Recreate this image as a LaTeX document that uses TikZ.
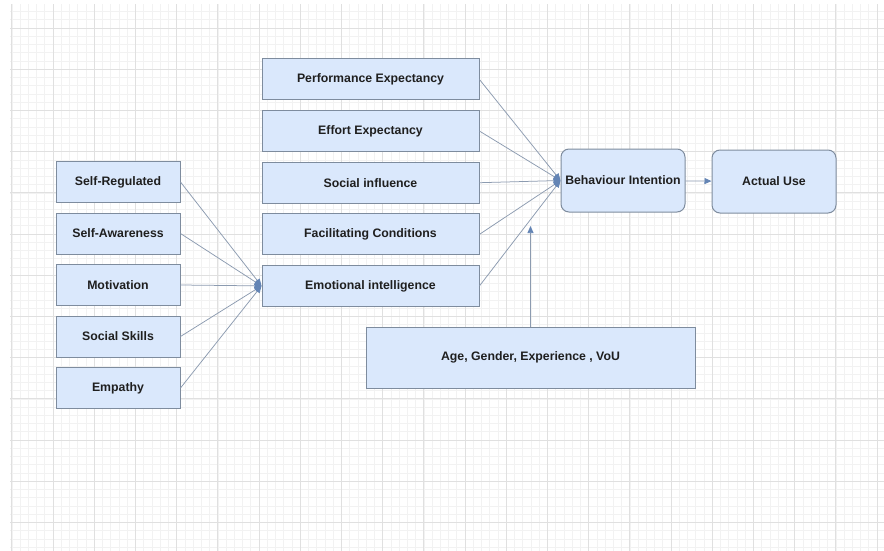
\documentclass[tikz,border=0pt]{standalone}
\usepackage{fontspec}
\setmainfont{Liberation Sans}
\usetikzlibrary{arrows.meta}
\definecolor{boxfill}{HTML}{DAE8FC}
\definecolor{boxline}{HTML}{7E8C9E}
\definecolor{conline}{HTML}{8C9BB0}
\definecolor{tipfill}{HTML}{6485B5}
\definecolor{gridminor}{HTML}{F2F2F2}
\definecolor{gridmajor}{HTML}{E0E0E0}
\tikzset{
	factor/.style={draw=boxline, line width=1pt, fill=boxfill, minimum height=41pt, inner sep=2pt, font=\fontsize{12.3}{14}\selectfont\bfseries, text=black!88},
	outcome/.style={factor, rounded corners=8pt, minimum width=124pt, minimum height=63pt},
	link/.style={draw=conline, line width=0.75pt, -{Triangle[length=7pt,width=6pt,color=tipfill,fill=tipfill]}},
}
\begin{document}
\begin{tikzpicture}[x=1pt, y=-1pt]
		\useasboundingbox[fill=white] (0,0) rectangle (884,551);
		% grid
		\begin{scope}
			\clip (10,5) rectangle (884,551);
			\foreach \i in {0,...,105} \draw[gridminor, line width=0.6pt] (11.8+8.24*\i,0) -- (11.8+8.24*\i,551);
			\foreach \j in {0,...,65} \draw[gridminor, line width=0.6pt] (0,11.52+8.24*\j) -- (884,11.52+8.24*\j);
			\foreach \i in {0,...,21} \draw[gridmajor, line width=0.8pt] (11.8+41.2*\i,0) -- (11.8+41.2*\i,551);
			\foreach \j in {0,...,12} \draw[gridmajor, line width=0.8pt] (0,28+41.2*\j) -- (884,28+41.2*\j);
		\end{scope}
		% UTAUT constructs
		\node[factor, minimum width=217pt] (pe) at (370.5,79.5) {Performance Expectancy};
		\node[factor, minimum width=217pt] (ee) at (370.5,131.1) {Effort Expectancy};
		\node[factor, minimum width=217pt] (si) at (370.5,182.7) {Social influence};
		\node[factor, minimum width=217pt] (fc) at (370.5,234.3) {Facilitating Conditions};
		\node[factor, minimum width=217pt] (ei) at (370.5,285.9) {Emotional intelligence};
		% emotional intelligence dimensions
		\node[factor, minimum width=124pt] (sr) at (118,182) {Self-Regulated};
		\node[factor, minimum width=124pt] (sa) at (118,233.5) {Self-Awareness};
		\node[factor, minimum width=124pt] (mo) at (118,285) {Motivation};
		\node[factor, minimum width=124pt] (ss) at (118,336.5) {Social Skills};
		\node[factor, minimum width=124pt] (em) at (118,388) {Empathy};
		% outcomes and moderators
		\node[outcome] (bi) at (623,180.5) {Behaviour Intention};
		\node[outcome] (au) at (774,181.5) {Actual Use};
		\node[factor, minimum width=329pt, minimum height=61pt] (age) at (530.5,357.5) {Age, Gender, Experience , VoU};
		\coordinate (mod) at (530.5,226);
		\path[every edge/.style=link]
		(sr.east) edge (ei.west)
		(sa.east) edge (ei.west)
		(mo.east) edge (ei.west)
		(ss.east) edge (ei.west)
		(em.east) edge (ei.west)
		;
		\path[every edge/.style=link]
		(pe.east) edge (bi.west)
		(ee.east) edge (bi.west)
		(si.east) edge (bi.west)
		(fc.east) edge (bi.west)
		(ei.east) edge (bi.west)
		(bi) edge (au)
		(age) edge (mod)
		;
	\end{tikzpicture}
\end{document}
